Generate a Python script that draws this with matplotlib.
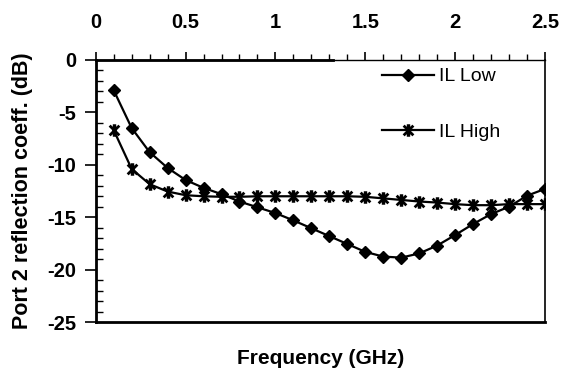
import matplotlib
matplotlib.use("Agg")
import matplotlib.pyplot as plt
import numpy as np
from matplotlib.path import Path
from matplotlib.ticker import MultipleLocator

freq_ghz = [0.1, 0.2, 0.3, 0.4, 0.5, 0.6, 0.7, 0.8, 0.9, 1.0, 1.1, 1.2, 1.3,
            1.4, 1.5, 1.6, 1.7, 1.8, 1.9, 2.0, 2.1, 2.2, 2.3, 2.4, 2.5]
il_low = [-2.9, -6.5, -8.8, -10.3, -11.45, -12.2, -12.8, -13.5, -14.05, -14.6,
          -15.3, -16.05, -16.8, -17.55, -18.3, -18.75, -18.85, -18.45, -17.7,
          -16.7, -15.65, -14.7, -14.0, -12.95, -12.3]
il_high = [-6.7, -10.4, -11.85, -12.55, -12.9, -13.0, -13.05, -13.05, -13.0,
           -13.0, -13.0, -13.0, -13.0, -13.0, -13.05, -13.2, -13.35, -13.5,
           -13.6, -13.75, -13.85, -13.85, -13.75, -13.75, -13.75]
series_labels = ["IL Low", "IL High"]
x_ticks = [0, 0.5, 1, 1.5, 2, 2.5]
x_tick_labels = ["0", "0.5", "1", "1.5", "2", "2.5"]
y_ticks = [0, -5, -10, -15, -20, -25]
y_tick_labels = ["0", "-5", "-10", "-15", "-20", "-25"]

plt.rcParams['font.family'] = ['Liberation Sans', 'DejaVu Sans']

# Excel-like star marker: X with vertical stroke and short caps
star = Path([(-1, -1), (1, 1), (-1, 1), (1, -1), (0, -1), (0, 1),
             (-0.35, 1), (0.35, 1), (-0.35, -1), (0.35, -1)],
            [Path.MOVETO, Path.LINETO] * 5)

fig = plt.figure(figsize=(5.7, 3.72), dpi=100)
ax = fig.add_axes([0.168, 0.134, 0.788, 0.705])

ax.plot(freq_ghz, il_low, color='black', lw=1.6, marker='D', markersize=6,
        markerfacecolor='black', markeredgecolor='black', label=series_labels[0])
ax.plot(freq_ghz, il_high, color='black', lw=1.6, marker=star, markersize=7,
        markeredgewidth=2.0, markerfacecolor='none', markeredgecolor='black',
        label=series_labels[1])

ax.set_xlim(0, 2.5)
ax.set_ylim(-25, 0)

ax.xaxis.tick_top()
ax.set_xticks(x_ticks)
ax.set_xticklabels(x_tick_labels, fontsize=14.5, fontweight='bold')
ax.xaxis.set_minor_locator(MultipleLocator(0.1))
ax.set_yticks(y_ticks)
ax.set_yticklabels(y_tick_labels, fontsize=14.5, fontweight='bold')
ax.yaxis.set_minor_locator(MultipleLocator(1))

ax.tick_params(axis='x', which='major', direction='out', length=6, width=1.2, pad=14)
ax.tick_params(axis='x', which='minor', direction='out', length=4, width=1)
ax.tick_params(axis='y', which='major', direction='out', length=8, width=1.2, pad=6)
ax.tick_params(axis='y', which='minor', direction='in', length=5, width=1)

ax.spines['left'].set_linewidth(2)
ax.spines['bottom'].set_linewidth(2)
ax.spines['top'].set_linewidth(1)
ax.spines['right'].set_linewidth(1.2)
# thicker portion of top border
ax.plot([0, 1.32], [0, 0], color='black', lw=2, clip_on=False, zorder=5)

ax.set_xlabel("Frequency (GHz)", fontsize=15, fontweight='bold')
ax.xaxis.set_label_position('bottom')
ax.xaxis.labelpad = 19
ax.set_ylabel("Port 2 reflection coeff. (dB)", fontsize=15.5, fontweight='bold')
ax.yaxis.labelpad = 10

ax.legend(loc='upper left', bbox_to_anchor=(0.637, 0.97), frameon=False,
          fontsize=14, handlelength=2.7, handletextpad=0.25,
          labelspacing=1.95, borderaxespad=0, borderpad=0)

fig.savefig("out.png", dpi=100)
